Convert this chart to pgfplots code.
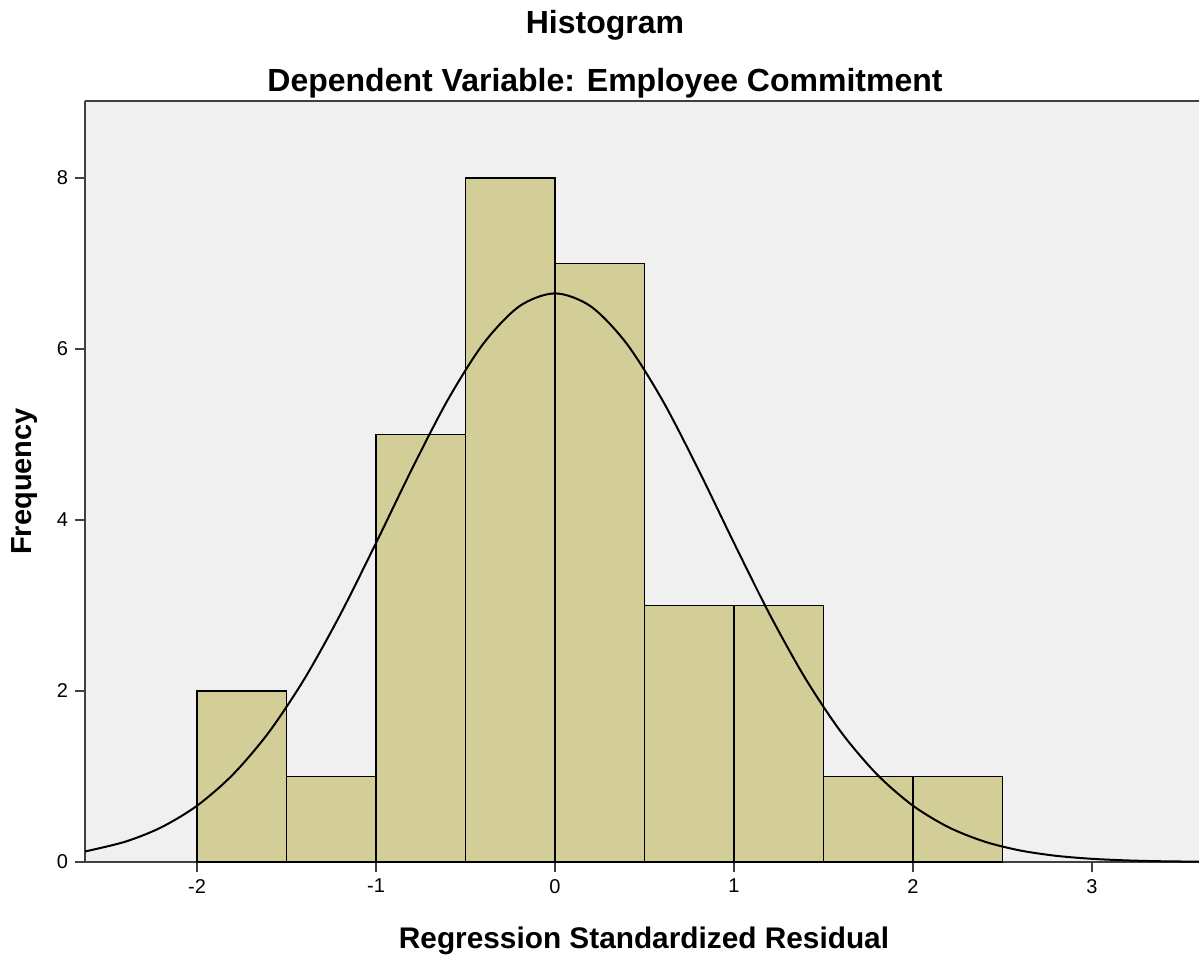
\documentclass[border=0pt]{standalone}
\usepackage{fontspec}
\setmainfont{Liberation Sans}
\usepackage{pgfplots}
\pgfplotsset{compat=1.18}
\usetikzlibrary{calc}
\definecolor{bgc}{RGB}{240,240,240}
\definecolor{barc}{RGB}{211,206,151}
\begin{document}
\begin{tikzpicture}
\begin{axis}[
  name=ax,
  scale only axis,
  width=557pt, height=380.5pt,
  xmin=-2.626, xmax=3.598,
  ymin=0, ymax=8.9,
  axis x line=box, axis y line=left,
  axis line style={line width=0.9pt, color=black!75, -},
  axis background/.style={fill=bgc},
  xtick={-2,-1,0,1,2,3},
  ytick={0,2,4,6,8},
  tick align=outside,
  major tick length=5pt,
  tick style={line width=0.9pt, color=black!75},
  xtick pos=bottom, ytick pos=left,
  ticklabel style={font=\fontsize{10}{12}\selectfont},
  /pgf/number format/assume math mode=true,
  clip=false,
]
\addplot[ybar interval, fill=barc, draw=black, line width=0.7pt] coordinates {
  (-2.0,2) (-1.5,1) (-1.0,5) (-0.5,8) (0.0,7) (0.5,3) (1.0,3) (1.5,1) (2.0,1) (2.5,1)
};
\addplot[smooth, black, line width=1pt] coordinates {
  (-2.626,0.123) (-2.4,0.238) (-2.2,0.405) (-2.0,0.658) (-1.8,1.022) (-1.6,1.514)
  (-1.4,2.142) (-1.2,2.893) (-1.0,3.731) (-0.8,4.593) (-0.6,5.401) (-0.4,6.063)
  (-0.2,6.498) (0.0,6.650) (0.2,6.498) (0.4,6.063) (0.6,5.401) (0.8,4.593)
  (1.0,3.731) (1.2,2.893) (1.4,2.142) (1.6,1.514) (1.8,1.022) (2.0,0.658)
  (2.2,0.405) (2.4,0.238) (2.6,0.134) (2.8,0.072) (3.0,0.037) (3.2,0.018)
  (3.4,0.008) (3.598,0.004)
};
\end{axis}
\node[font=\fontsize{16}{19}\selectfont\bfseries] at ($(ax.north west)+(260pt,38pt)$) {Histogram};
\node[font=\fontsize{16}{19}\selectfont\bfseries] at ($(ax.north west)+(260pt,9pt)$) {Dependent Variable: Employee Commitment};
\node[font=\fontsize{14.9}{17}\selectfont\bfseries] at ($(ax.south west)+(279.5pt,-39.5pt)$) {Regression Standardized Residual};
\node[font=\fontsize{14.5}{17}\selectfont\bfseries, rotate=90] at ($(ax.west)+(-30pt,0)$) {Frequency};
\pgfresetboundingbox
\path ($(ax.south west)+(-42.5pt,-46.5pt)$) rectangle ($(ax.north east)+(0,50.5pt)$);
\end{tikzpicture}
\end{document}
